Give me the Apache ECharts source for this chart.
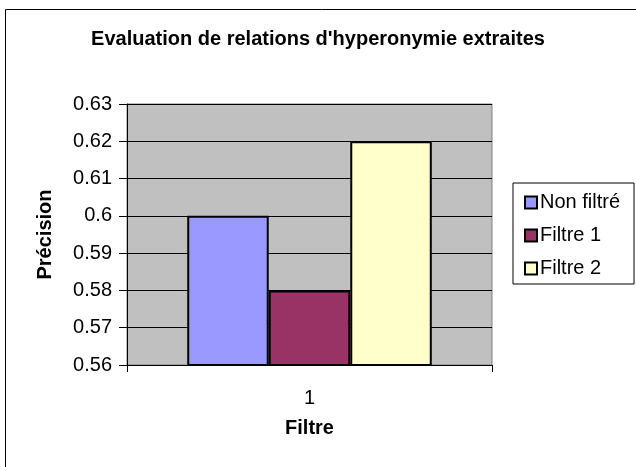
<!DOCTYPE html>
<html>
<head>
<meta charset="utf-8">
<script src="https://cdn.jsdelivr.net/npm/echarts@6/dist/echarts.min.js"></script>
<style>
  html, body { margin: 0; padding: 0; background: #fff; }
  #main { width: 636px; height: 467px; }
</style>
</head>
<body>
<div id="main"></div>
<script>
// données
var categories = ['1'];
var seriesNames = ['Non filtré', 'Filtre 1', 'Filtre 2'];
var nonFiltre = [0.60];
var filtre1 = [0.58];
var filtre2 = [0.62];
var colors = ['#9999FF', '#993366', '#FFFFCC'];

var font = 'Liberation Sans, Arial, sans-serif';
var myChart = echarts.init(document.getElementById('main'));

function barSeries(name, data, color) {
  return {
    name: name,
    type: 'bar',
    data: data,
    barGap: 0,
    barCategoryGap: '33%',
    itemStyle: { color: color, borderColor: '#000', borderWidth: 2 }
  };
}

var option = {
  animation: false,
  backgroundColor: '#fff',
  textStyle: { fontFamily: font },
  graphic: [{
    // cadre du graphique (seuls les bords haut et gauche sont visibles)
    type: 'rect',
    shape: { x: 5.5, y: 9.5, width: 700, height: 500 },
    style: { fill: 'none', stroke: '#000', lineWidth: 1 },
    z: -1
  }],
  title: {
    text: "Evaluation de relations d'hyperonymie extraites",
    left: 'center',
    top: 29,
    padding: 0,
    textStyle: { fontSize: 20, fontWeight: 'bold', color: '#000', fontFamily: font }
  },
  grid: {
    left: 127, top: 104, width: 365, height: 261,
    show: true,
    backgroundColor: '#C0C0C0',
    borderColor: '#808080',
    borderWidth: 1
  },
  legend: {
    orient: 'vertical',
    left: 513, top: 183,
    padding: [8, 14, 4, 11],
    itemGap: 10,
    itemWidth: 12, itemHeight: 12,
    icon: 'rect',
    borderColor: '#000',
    borderWidth: 1,
    backgroundColor: '#fff',
    data: seriesNames,
    textStyle: { fontSize: 20, lineHeight: 23, color: '#000', fontFamily: font, padding: [0, 0, 0, -2] }
  },
  xAxis: {
    type: 'category',
    data: categories,
    name: 'Filtre',
    nameLocation: 'middle',
    nameGap: 53,
    nameTextStyle: { fontSize: 20, fontWeight: 'bold', color: '#000' },
    axisLine: { lineStyle: { color: '#000', width: 1 } },
    axisTick: { show: true, length: 7, lineStyle: { color: '#000' } },
    axisLabel: { fontSize: 20, color: '#000', margin: 23 }
  },
  yAxis: {
    type: 'value',
    min: 0.56, max: 0.63, interval: 0.01,
    name: 'Précision',
    nameLocation: 'middle',
    nameGap: 72,
    nameRotate: 90,
    nameTextStyle: { fontSize: 20, fontWeight: 'bold', color: '#000' },
    axisLine: { show: true, lineStyle: { color: '#000', width: 1 } },
    axisTick: { show: true, length: 8, lineStyle: { color: '#000' } },
    axisLabel: { fontSize: 20, color: '#000', margin: 15 },
    splitLine: { lineStyle: { color: '#000', width: 1 } }
  },
  series: [
    barSeries(seriesNames[0], nonFiltre, colors[0]),
    barSeries(seriesNames[1], filtre1, colors[1]),
    barSeries(seriesNames[2], filtre2, colors[2])
  ]
};

myChart.setOption(option);
</script>
</body>
</html>
